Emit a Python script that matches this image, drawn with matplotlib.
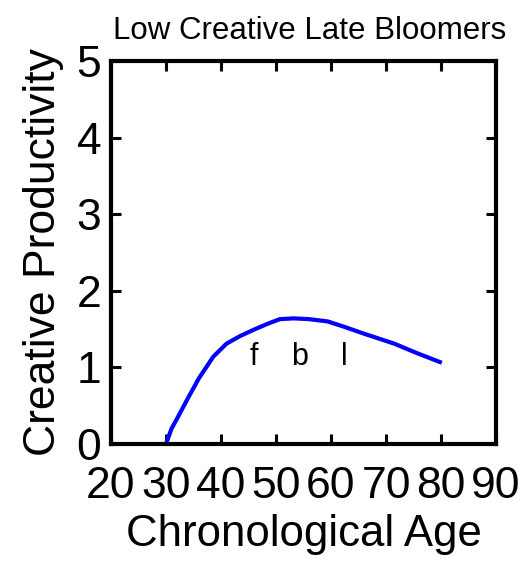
import numpy as np
import matplotlib
matplotlib.use('Agg')
import matplotlib.pyplot as plt

plt.rcParams['font.family'] = ['Liberation Sans', 'DejaVu Sans']

# Curve
age = [30.0, 31.0, 32.0, 34.0, 36.0, 38.6, 41.0, 43.5, 45.9, 48.5, 50.7, 53.2, 56.0, 59.4, 62.4, 66.0, 71.5, 75.5, 79.8]
productivity = [0.0, 0.2, 0.33, 0.6, 0.86, 1.14, 1.31, 1.41, 1.49, 1.57, 1.63, 1.64, 1.63, 1.60, 1.53, 1.44, 1.31, 1.19, 1.07]

marker_labels = ['f', 'b', 'l']
marker_ages = [45.9, 54.2, 62.4]
marker_y = 1.03

fig = plt.figure(figsize=(5.24, 5.68), dpi=100)
ax = fig.add_axes([111 / 524, 1 - 444 / 568, 385 / 524, 383 / 568])

ax.plot(age, productivity, color='#0000ff', linewidth=3)
for lab, a in zip(marker_labels, marker_ages):
    ax.text(a, marker_y, lab, ha='center', va='baseline', fontsize=22)

ax.set_xlim(20, 90)
ax.set_ylim(0, 5)
ax.set_xticks(range(20, 91, 10))
ax.set_yticks(range(0, 6))
ax.tick_params(direction='in', length=7, width=2.2, labelsize=32, top=True, right=True)
ax.tick_params(axis='x', pad=16)
ax.tick_params(axis='y', pad=7)
for s in ax.spines.values():
    s.set_linewidth(3)

ax.set_xlabel('Chronological Age', fontsize=31.5, labelpad=5)
ax.set_ylabel('Creative Productivity', fontsize=32, labelpad=9)
ax.set_title('Low Creative Late Bloomers', fontsize=22.5, pad=16, x=0.515)

fig.savefig('out.png', dpi=100)
